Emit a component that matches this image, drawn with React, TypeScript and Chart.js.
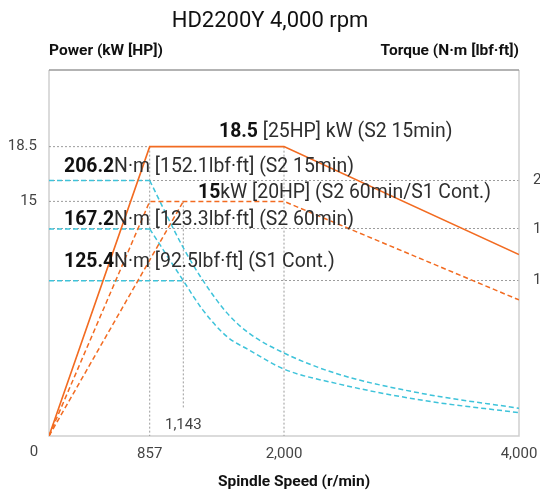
import React, { useEffect, useRef } from 'react';
import { Chart, registerables } from 'chart.js';

Chart.register(...registerables);

// ---------- data ----------
const TITLE = 'HD2200Y 4,000 rpm';
const POWER_AXIS_TITLE = 'Power (kW [HP])';
const TORQUE_AXIS_TITLE = 'Torque (N·m [lbf·ft])';
const SPEED_AXIS_TITLE = 'Spindle Speed (r/min)';

const speedTicks = [0, 857, 2000, 4000];
const powerTicks = [15, 18.5];
const torqueTicks = [125.4, 167.2, 206.2];

// Power (kW) — S2 15min (solid), S2 60min and S1 Cont. (dashed)
const powerS2_15Rpm = [0, 857, 2000, 4000];
const powerS2_15 = [0, 18.5, 18.5, 11.6];
const powerS2_60Rpm = [0, 857, 2000, 4000];
const powerS2_60 = [0, 15, 15, 8.7];
const powerS1Rpm = [0, 1143];
const powerS1 = [0, 15];

// Torque (N·m)
const torqueFlatS2_15Rpm = [0, 857];
const torqueFlatS2_15 = [206.2, 206.2];
const torqueCurveS2_15Rpm = [857, 1143, 1307, 1518, 1702, 2000, 2443, 3166, 4000];
const torqueCurveS2_15 = [206.2, 152, 126, 99, 83, 67, 50.5, 34.5, 22.4];
const torqueFlatS2_60Rpm = [0, 857];
const torqueFlatS2_60 = [167.2, 167.2];
const torqueCurveS2_60Rpm = [857, 1143, 1307, 1518, 1702, 2000, 2443, 3166, 4000];
const torqueCurveS2_60 = [167.2, 125.4, 102, 80, 69.5, 54, 42.5, 29, 18.8];
const torqueS1Rpm = [0, 1143];
const torqueS1 = [125.4, 125.4];

// guide lines (rpm, kW)
const guideLines: [number, number][][] = [
  [[0, 18.5], [857, 18.5]],
  [[0, 15], [857, 15]],
  [[857, 18.5], [857, 0]],
  [[2000, 18.5], [2000, 0]],
  [[1143, 15], [1143, 1.8]],
];
const markerSpeed = 1143;

const plotLabels: { parts: [string, boolean][]; x: number; y: number }[] = [
  { parts: [['18.5', true], [' [25HP] kW (S2 15min)', false]], x: 170, y: 67 },
  { parts: [['206.2', true], ['N·m [152.1lbf·ft] (S2 15min)', false]], x: 15, y: 101.5 },
  { parts: [['15', true], ['kW [20HP] (S2 60min/S1 Cont.)', false]], x: 149, y: 128 },
  { parts: [['167.2', true], ['N·m [123.3lbf·ft] (S2 60min)', false]], x: 15, y: 155 },
  { parts: [['125.4', true], ['N·m [92.5lbf·ft] (S1 Cont.)', false]], x: 15, y: 197 },
];

// ---------- styles ----------
const FONT = 'Roboto';
const ORANGE = '#F26B21';
const CYAN = '#3EC3DA';
const GUIDE = '#9c9c9c';

const pts = (xs: number[], ys: number[]) => xs.map((x, i) => ({ x, y: ys[i] }));

function drawRich(ctx: CanvasRenderingContext2D, parts: [string, boolean][], x: number, y: number, size: number) {
  let cx = x;
  ctx.textAlign = 'left';
  ctx.textBaseline = 'alphabetic';
  for (const [t, b] of parts) {
    ctx.font = `${b ? 'bold ' : ''}${size}px ${FONT}`;
    ctx.fillStyle = b ? '#111' : '#2e2e2e';
    ctx.fillText(t, cx, y);
    cx += ctx.measureText(t).width;
  }
}

const framePlugin = {
  id: 'frame',
  beforeDatasetsDraw(chart: any) {
    const { ctx, chartArea: ca } = chart;
    ctx.save();
    ctx.strokeStyle = '#cfcfcf';
    ctx.lineWidth = 1.5;
    ctx.beginPath();
    ctx.moveTo(ca.left, ca.top);
    ctx.lineTo(ca.left, ca.bottom);
    ctx.lineTo(ca.right, ca.bottom);
    ctx.lineTo(ca.right, ca.top);
    ctx.stroke();
    ctx.strokeStyle = '#9a9a9a';
    ctx.beginPath();
    ctx.moveTo(ca.left, ca.top);
    ctx.lineTo(ca.right, ca.top);
    ctx.stroke();
    ctx.restore();
  },
};

const textPlugin = {
  id: 'texts',
  afterDraw(chart: any) {
    const { ctx, chartArea: ca, scales } = chart;
    ctx.save();
    // title
    ctx.font = `22px ${FONT}`;
    ctx.fillStyle = '#111';
    ctx.textAlign = 'center';
    ctx.textBaseline = 'alphabetic';
    ctx.fillText(TITLE, chart.width / 2, 27);
    // axis headers
    ctx.font = `bold 15.5px ${FONT}`;
    ctx.textAlign = 'left';
    ctx.fillText(POWER_AXIS_TITLE, ca.left, 55);
    ctx.textAlign = 'right';
    ctx.fillText(TORQUE_AXIS_TITLE, ca.right, 55);
    ctx.textAlign = 'center';
    ctx.fillText(SPEED_AXIS_TITLE, (ca.left + ca.right) / 2 + 10, 486);
    // origin label, set to the left of the axis as in the source
    ctx.font = `15px ${FONT}`;
    ctx.fillStyle = '#444';
    ctx.textBaseline = 'top';
    ctx.fillText(String(speedTicks[0]), ca.left - 15, ca.bottom + 9);
    // 1,143 marker label
    ctx.textBaseline = 'alphabetic';
    ctx.fillText(markerSpeed.toLocaleString('en-US'), scales.x.getPixelForValue(markerSpeed), 429);
    // in-plot labels
    for (const l of plotLabels) drawRich(ctx, l.parts, ca.left + l.x, ca.top + l.y, 19.4);
    ctx.restore();
  },
};

export default function App() {
  const ref = useRef<HTMLCanvasElement>(null);
  useEffect(() => {
    document.body.style.margin = '0';
    const guideSets = guideLines.map((g) => ({
      data: g.map(([x, y]) => ({ x, y })),
      yAxisID: 'y',
      borderColor: GUIDE,
      borderWidth: 1,
      borderDash: [2, 2],
      pointRadius: 0,
      order: 10,
    }));
    const cyanBase = { yAxisID: 'y2', borderColor: CYAN, borderWidth: 1.5, borderDash: [5, 3], pointRadius: 0, order: 5 };
    const chart = new Chart(ref.current!, {
      type: 'line',
      data: {
        datasets: [
          ...guideSets,
          { ...cyanBase, data: pts(torqueFlatS2_15Rpm, torqueFlatS2_15) },
          { ...cyanBase, data: pts(torqueCurveS2_15Rpm, torqueCurveS2_15), cubicInterpolationMode: 'monotone' },
          { ...cyanBase, data: pts(torqueFlatS2_60Rpm, torqueFlatS2_60) },
          { ...cyanBase, data: pts(torqueCurveS2_60Rpm, torqueCurveS2_60), cubicInterpolationMode: 'monotone' },
          { ...cyanBase, data: pts(torqueS1Rpm, torqueS1) },
          { data: pts(powerS2_60Rpm, powerS2_60), yAxisID: 'y', borderColor: ORANGE, borderWidth: 1.5, borderDash: [5, 3], pointRadius: 0, order: 2 },
          { data: pts(powerS1Rpm, powerS1), yAxisID: 'y', borderColor: ORANGE, borderWidth: 1.5, borderDash: [5, 3], pointRadius: 0, order: 2 },
          { data: pts(powerS2_15Rpm, powerS2_15), yAxisID: 'y', borderColor: ORANGE, borderWidth: 1.6, pointRadius: 0, order: 1 },
        ] as any,
      },
      options: {
        animation: false,
        responsive: true,
        maintainAspectRatio: false,
        layout: { padding: { top: 70, left: 0, right: 0, bottom: 0 } },
        plugins: { legend: { display: false }, tooltip: { enabled: false }, title: { display: false } },
        scales: {
          x: {
            type: 'linear',
            min: 0,
            max: 4000,
            afterBuildTicks: (s: any) => { s.ticks = speedTicks.map((v) => ({ value: v })); },
            afterFit: (s: any) => { s.height = 57; s.paddingLeft = 0; s.paddingRight = 0; },
            ticks: {
              autoSkip: false,
              maxRotation: 0,
              padding: 9,
              color: '#444',
              font: { family: FONT, size: 15 },
              callback: (v: any) => (Number(v) === 0 ? '' : Number(v).toLocaleString('en-US')),
            },
            grid: { display: false, drawTicks: false },
            border: { display: false },
          },
          y: {
            type: 'linear',
            position: 'left',
            min: 0,
            max: 23.4,
            afterBuildTicks: (s: any) => { s.ticks = powerTicks.map((v) => ({ value: v })); },
            afterFit: (s: any) => { s.width = 49; s.paddingTop = 0; s.paddingBottom = 0; },
            ticks: {
              padding: 12,
              color: '#444',
              font: { family: FONT, size: 15 },
              callback: (v: any) => String(v),
            },
            grid: { display: false, drawTicks: false },
            border: { display: false },
          },
          y2: {
            type: 'linear',
            position: 'right',
            min: 0,
            max: 295.5,
            afterBuildTicks: (s: any) => { s.ticks = torqueTicks.map((v) => ({ value: v })); },
            afterFit: (s: any) => { s.width = 21; s.paddingTop = 0; s.paddingBottom = 0; },
            ticks: {
              padding: 14,
              color: '#444',
              font: { family: FONT, size: 15 },
              callback: (v: any) => String(v),
            },
            grid: { display: true, drawTicks: false, color: GUIDE, lineWidth: 1 },
            border: { display: false, dash: [2, 2] },
          },
        },
      } as any,
      plugins: [framePlugin, textPlugin],
    });
    return () => chart.destroy();
  }, []);
  return (
    <div style={{ width: 540, height: 493, position: 'relative' }}>
      <canvas ref={ref} />
    </div>
  );
}
